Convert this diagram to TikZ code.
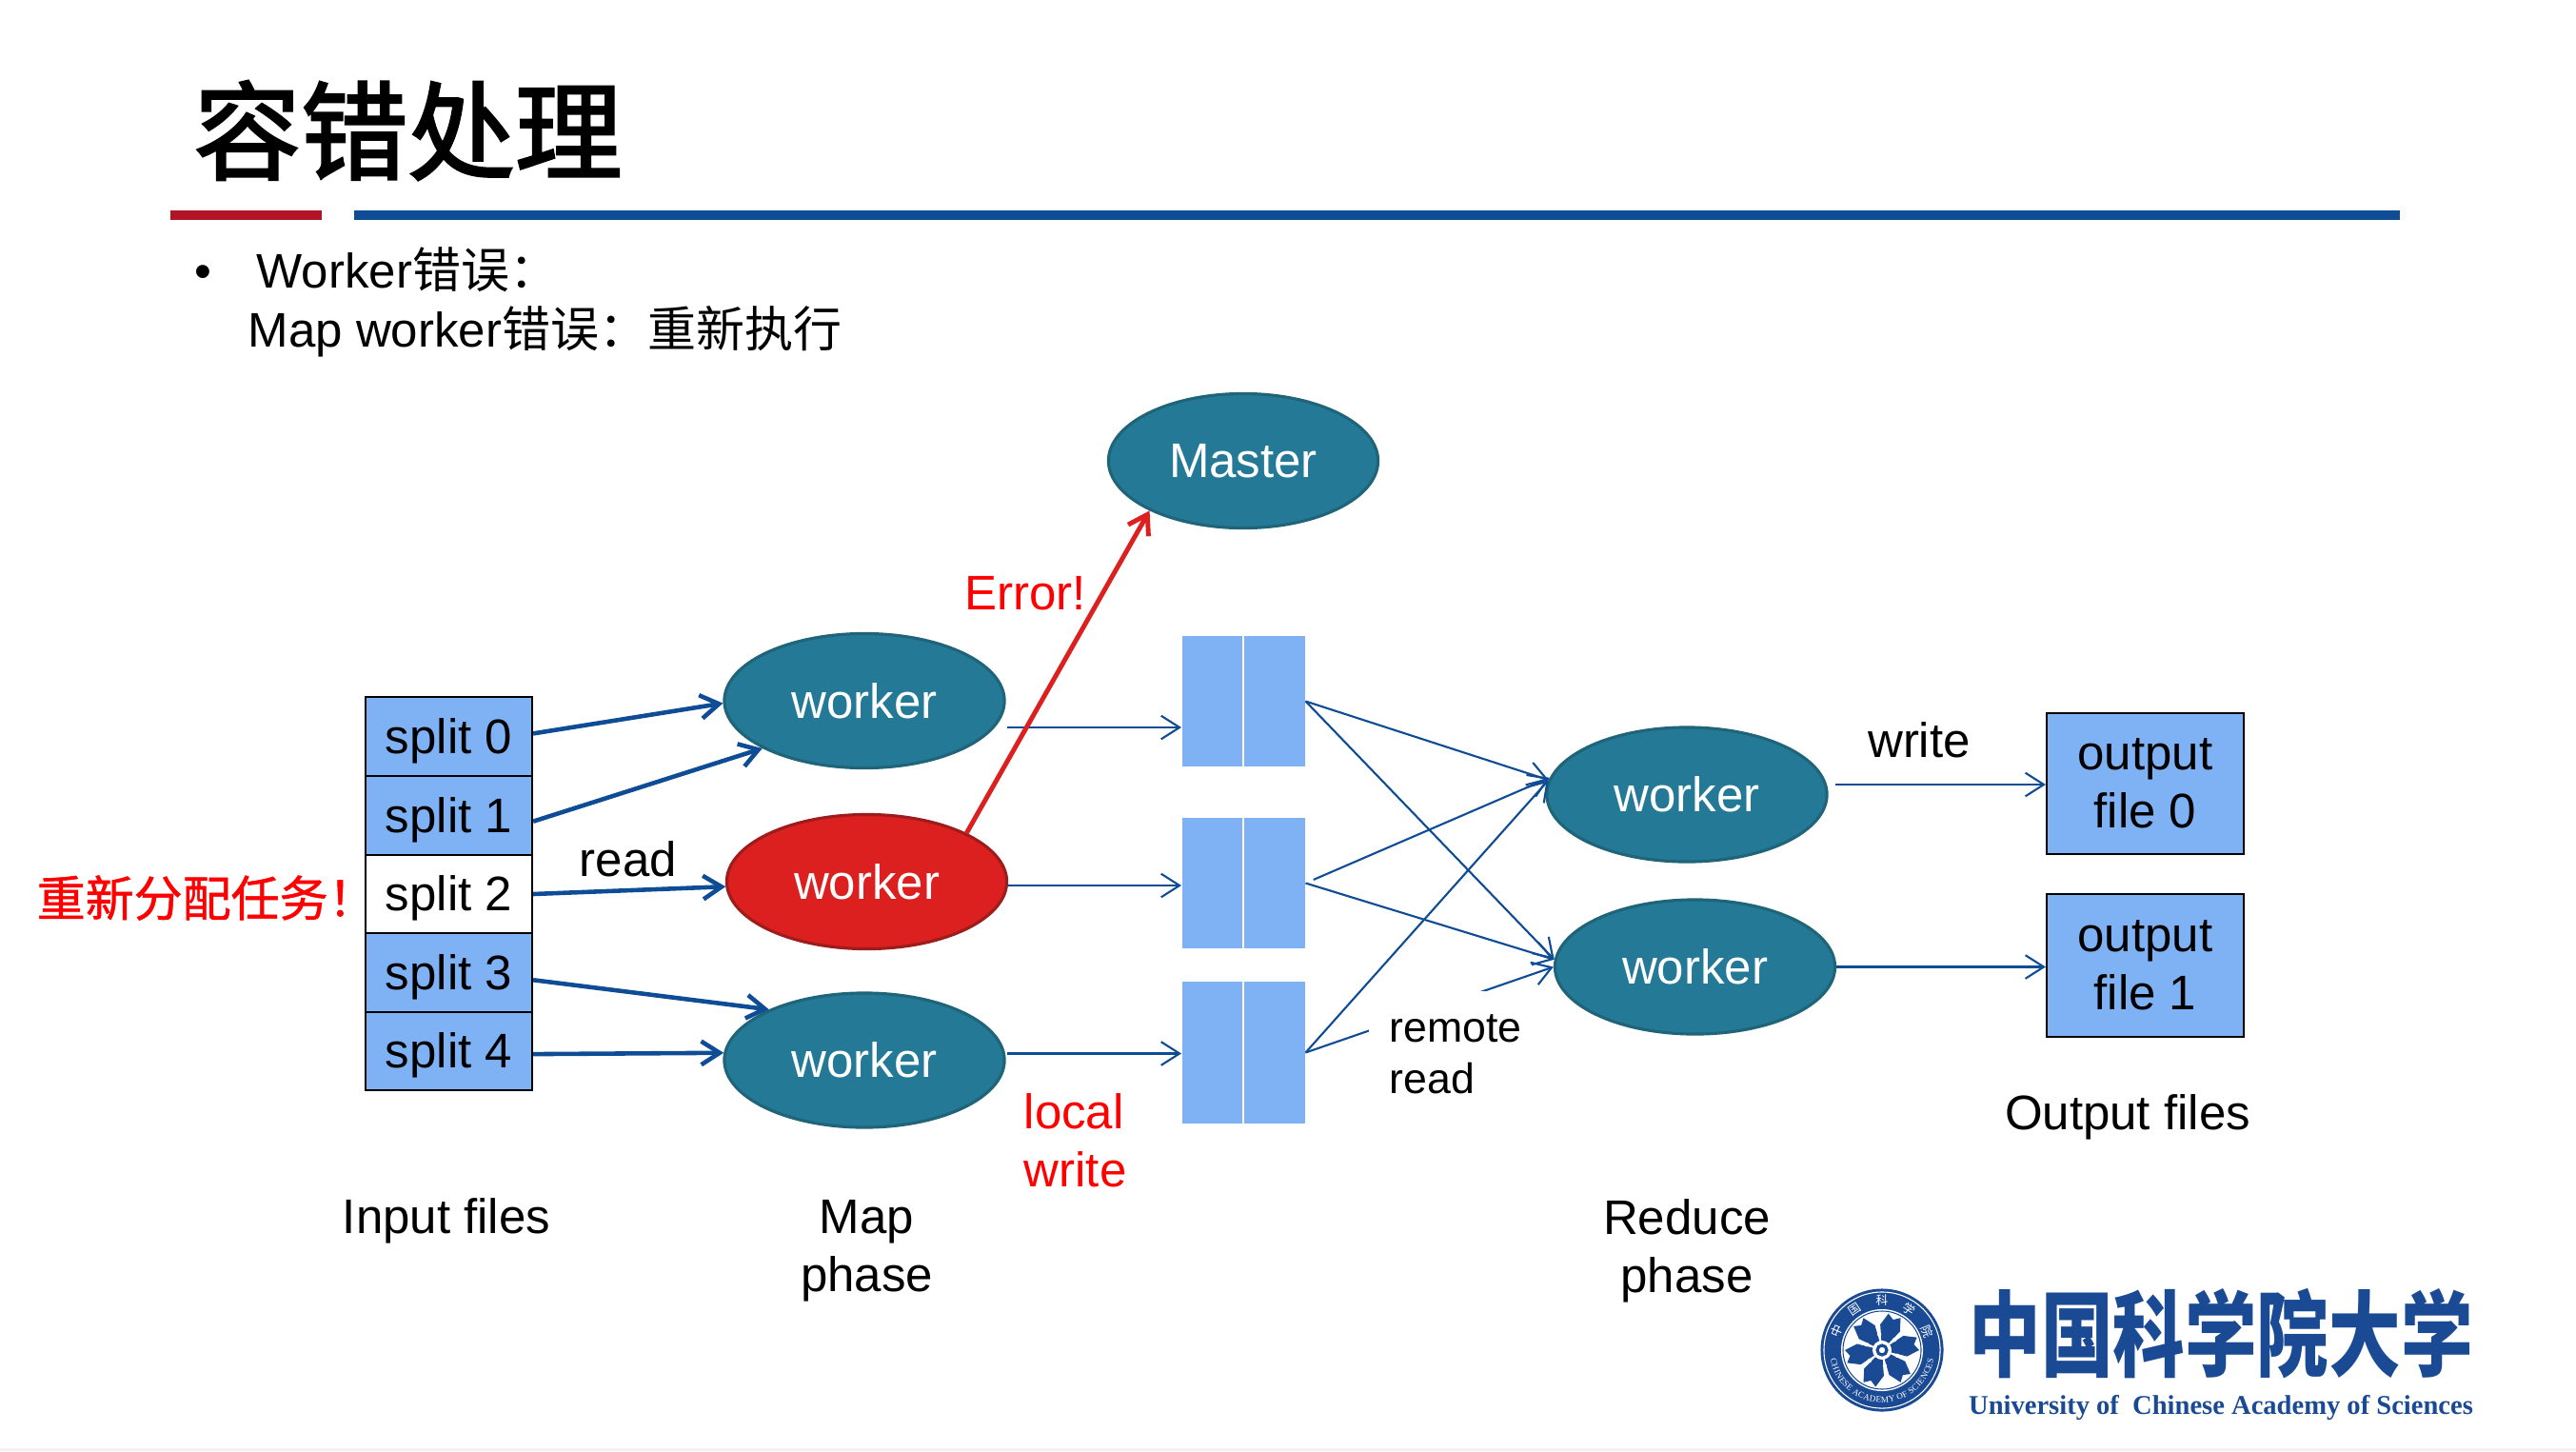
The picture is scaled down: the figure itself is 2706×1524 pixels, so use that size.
\documentclass[tikz,border=0pt]{standalone}
\usepackage{fontspec}
\setmainfont{Liberation Sans}
\newfontfamily\cjk{Noto Sans CJK SC}
\newfontfamily\cjkheavy[FakeBold=2.2]{Noto Sans CJK SC}
\newfontfamily\cjkmid[FakeBold=1]{Noto Sans CJK SC}
\newfontfamily\enserif{Liberation Serif}
\usetikzlibrary{arrows.meta,shapes.geometric,decorations.text}
\definecolor{wfill}{HTML}{247A96}
\definecolor{wline}{HTML}{1F6478}
\definecolor{rfill}{HTML}{DC1F1F}
\definecolor{rline}{HTML}{9E1C1C}
\definecolor{bfill}{HTML}{7FB2F5}
\definecolor{abar}{HTML}{0E4C96}
\definecolor{rbar}{HTML}{B01425}
\definecolor{logob}{HTML}{1A4A94}
\newcommand{\bodyfs}{\fontsize{14.5}{17.4}\selectfont}
\begin{document}
\begin{tikzpicture}[x=.01cm,y=-.01cm,
  every node/.style={font=\bodyfs},
  worker node/.style={ellipse,draw=wline,line width=.9pt,fill=wfill,text=white,inner sep=0pt,minimum width=2.94cm,minimum height=1.41cm},
  box node/.style={rectangle,draw=black,line width=.6pt,fill=bfill,inner sep=0pt},
  split node/.style={box node,minimum width=1.75cm,minimum height=.825cm,text height=13.2pt,text depth=3pt},
  file node/.style={box node,minimum width=2.07cm,align=center},
  block node/.style={rectangle,fill=bfill,inner sep=0pt,minimum width=.635cm},
  thick arrow/.style={abar,line width=1.3pt,-{Straight Barb[length=5.5pt,width=7pt]}},
  thin arrow/.style={abar,line width=.6pt,-{Straight Barb[length=5.5pt,width=7pt]}},
  red text/.style={text=red}]

  \useasboundingbox (0,0) rectangle (2706,1524);
  \fill[black!5] (0,1521) rectangle (2706,1524);

  % heading
  \node[anchor=west,font=\cjkheavy\fontsize{32}{36}\selectfont] (title) at (191,137) {容错处理};
  \fill[rbar] (179,221) rectangle (338,231);
  \fill[abar] (372,221) rectangle (2521,231);
  \node (bullet) at (213,291) {•};
  \node[anchor=base west,inner sep=0pt] (line1) at (269,302) {Worker{\cjk 错误：}};
  \node[anchor=base west,inner sep=0pt] (line2) at (260,364) {Map worker{\cjk 错误：重新执行}};

  \node[split node] (s0) at (471.5,773.5) {split 0};
  \node[split node] (s1) at (471.5,856.5) {split 1};
  \node[split node,fill=white] (s2) at (471.5,939) {split 2};
  \node[split node] (s3) at (471.5,1021.5) {split 3};
  \node[split node] (s4) at (471.5,1104) {split 4};

  \node[worker node,minimum width=2.83cm] (m) at (1306,484) {Master};
  \node[worker node] (w0) at (908,736) {worker};
  \node[worker node,draw=rline,fill=rfill] (w1) at (910.5,926) {worker};
  \node[worker node] (w2) at (908,1113.5) {worker};
  \node[worker node] (w3) at (1772,834.5) {worker};
  \node[worker node] (w4) at (1780.5,1015.5) {worker};

  \node[block node,minimum height=1.37cm] (b0l) at (1273.5,736.5) {};
  \node[block node,minimum height=1.37cm] (b0r) at (1339,736.5) {};
  \node[block node,minimum height=1.37cm] (b1l) at (1273.5,927.5) {};
  \node[block node,minimum height=1.37cm] (b1r) at (1339,927.5) {};
  \node[block node,minimum height=1.49cm] (b2l) at (1273.5,1105.5) {};
  \node[block node,minimum height=1.49cm] (b2r) at (1339,1105.5) {};

  \node[file node,minimum height=1.48cm] (out0) at (2253.5,823) {output\\file 0};
  \node[file node,minimum height=1.5cm] (out1) at (2253.5,1014) {output\\file 1};

  \coordinate (a0) at (1058,764);
  \coordinate (a1) at (1058,930);
  \coordinate (a2) at (1058,1106.5);
  \coordinate (a3) at (1928,824);

  \path[thick arrow]
   (s0.2) edge (w0.181)
   (s1.-4) edge (w0.205)
   (s2.east) edge (w1.182)
   (s3.-5.5) edge (w2.152.7)
   (s4.-2) edge (w2.177.5);

  \path[thin arrow]
   (a0) edge (a0 -| b0l.west)
   (a1) edge (a1 -| b1l.west)
   (a2) edge (a2 -| b2l.west)
   (b0r.east) edge (w3.174)
   (b0r.east) edge (w4.177.5)
   (b1r.east) edge[shorten <=.09cm] (w3.173)
   (b1r.east) edge (w4.177.5)
   (b2r.east) edge (w3.174)
   (b2r.east) edge (w4.west)
   (a3) edge (a3 -| out0.west)
   (w4.east) edge (w4.east -| out1.west);

  \draw[rfill,line width=1.4pt,-{Straight Barb[length=5.5pt,width=7pt]}] (w1.26.7) -- (m.208.3);

  % labels
  \node[anchor=north west,fill=white,inner xsep=.22cm,inner ysep=.25cm,align=left,font=\fontsize{12.7}{15.2}\selectfont] (remote) at (1437,1040) {remote\\read};
  \node[anchor=west,inner sep=0pt,red text,font=\cjkmid\bodyfs] (again) at (38,943) {重新分配任务！};
  \node (read) at (660,902) {read};
  \node[red text] (err) at (1077,623) {Error!};
  \node[anchor=west,inner sep=0pt,align=left,red text] (local) at (1075,1198) {local\\write};
  \node (wr) at (2016,777) {write};
  \node (outf) at (2235,1173) {Output files};
  \node (inf) at (469,1282) {Input files};
  \node[align=center] (mapp) at (910.5,1314) {Map\\phase};
  \node[align=center] (redp) at (1772,1314) {Reduce\\phase};

  % logo
  \begin{scope}[shift={(1977,1418)},x=1cm,y=1cm]
    \fill[logob] (0,0) circle (.645);
    \draw[white,line width=.3pt] (0,0) circle (.61);
    \fill[white] (0,0) circle (.43);
    \draw[logob,line width=.3pt] (0,0) circle (.41);
    \foreach \a in {10,70,...,310}
      \fill[logob] (0,0) -- (\a-24:.27) -- (\a-10:.39) -- (\a:.34) -- (\a+10:.39) -- (\a+24:.27) -- cycle;
    \fill[white] (0,0) circle (.1);
    \draw[logob,line width=.9pt] (0,0) circle (.05);
    \foreach \a in {40,100,...,340}
      \fill[white] (\a:.17) circle (.022);
    \path[decorate,decoration={text along path,text align={fit to path},text={|\cjk\fontsize{3.6}{4}\selectfont\color{white}|中国科学院}}] (165:.47) arc[start angle=165,end angle=15,radius=.47];
    \path[decorate,decoration={text along path,text align={fit to path},text={|\enserif\fontsize{2.6}{3}\selectfont\color{white}|CHINESE ACADEMY OF SCIENCES}}] (190:.55) arc[start angle=190,end angle=350,radius=.55];
  \end{scope}
  \node[text=logob,inner sep=0pt,font=\cjk\bfseries\fontsize{21.5}{24}\selectfont] (logocn) at (2333,1401) {\scalebox{1}[1.3]{中国科学院大学}};
  \node[anchor=base,text=logob,inner sep=0pt,font=\enserif\bfseries\fontsize{8.12}{10}\selectfont] (logoen) at (2333,1485) {University of\ \ Chinese Academy of Sciences};
\end{tikzpicture}
\end{document}
